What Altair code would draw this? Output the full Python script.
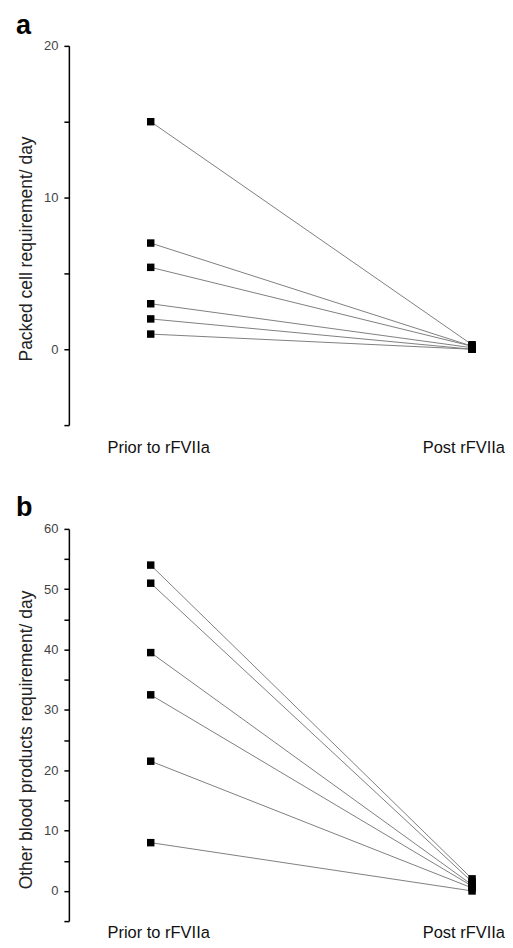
import altair as alt
import pandas as pd

phases = ["Prior to rFVIIa", "Post rFVIIa"]
patients = ["P1", "P2", "P3", "P4", "P5", "P6"]
packed_prior = [15, 7, 5.4, 3, 2, 1]
packed_post = [0.3, 0.2, 0.2, 0.1, 0.0, 0.0]
other_prior = [54, 51, 39.5, 32.5, 21.5, 8]
other_post = [2.0, 1.5, 1.0, 0.8, 0.5, 0.0]

FONT = "Liberation Sans"


def long(prior, post):
    rows = []
    for p, a, b in zip(patients, prior, post):
        rows.append({"patient": p, "phase": phases[0], "value": a})
        rows.append({"patient": p, "phase": phases[1], "value": b})
    return pd.DataFrame(rows)


def panel(df, letter, title, ymin, ymax, height, label_pad, letter_y, title_y):
    xscale = alt.Scale(domain=phases, range=[82, 404], padding=0)
    x = alt.X("phase:N", sort=phases, scale=xscale, axis=None)
    y = alt.Y(
        "value:Q", scale=alt.Scale(domain=[ymin, ymax], nice=False, zero=False),
        axis=alt.Axis(
            title=title, values=list(range(ymin, ymax + 1, 5)),
            labelExpr="datum.value % 10 == 0 ? datum.label : ''",
            grid=False, tickSize=5, tickColor="black", tickWidth=1.5,
            domainColor="black", domainWidth=1.5,
            labelFont=FONT, labelFontSize=13, labelColor="#444", labelPadding=6,
            titleFont=FONT, titleFontSize=17.5, titleFontWeight="normal",
            titleColor="#222", titlePadding=8, titleY=title_y,
        ),
    )
    base = alt.Chart(df)
    lines = base.mark_line(color="#808080", strokeWidth=1).encode(x=x, y=y, detail="patient:N")
    pts = base.mark_square(size=56, color="black", opacity=1).encode(x=x, y=y)
    lab = alt.Chart(pd.DataFrame({"t": [letter]})).mark_text(
        font=FONT, fontSize=27, fontWeight="bold", align="left",
        baseline="alphabetic", color="black",
    ).encode(text="t:N", x=alt.value(-53), y=alt.value(letter_y))
    cats = pd.DataFrame({"phase": phases})
    prior_lab = alt.Chart(cats).transform_filter(
        alt.datum.phase == phases[0]
    ).mark_text(font=FONT, fontSize=16.5, color="#111", align="center", baseline="top", dx=8).encode(
        x=x, text="phase:N", y=alt.value(height + label_pad))
    post_lab = alt.Chart(cats).transform_filter(
        alt.datum.phase == phases[1]
    ).mark_text(font=FONT, fontSize=16.5, color="#111", align="right", baseline="top", dx=33).encode(
        x=x, text="phase:N", y=alt.value(height + label_pad))
    return alt.layer(lines, pts, lab, prior_lab, post_lab).properties(width=425, height=height)


a = panel(long(packed_prior, packed_post), "a", "Packed cell requirement/ day",
          -5, 20, 380, 15, -12, 203)
b = panel(long(other_prior, other_post), "b", "Other blood products requirement/ day",
          -5, 60, 393, 4, -13, 211)

chart = alt.vconcat(a, b, spacing=37).properties(
    padding={"left": 8, "top": 3, "right": 0, "bottom": 0}
).configure_view(stroke=None)

chart.save("out.html", embed_options={"renderer": "svg", "actions": False})
